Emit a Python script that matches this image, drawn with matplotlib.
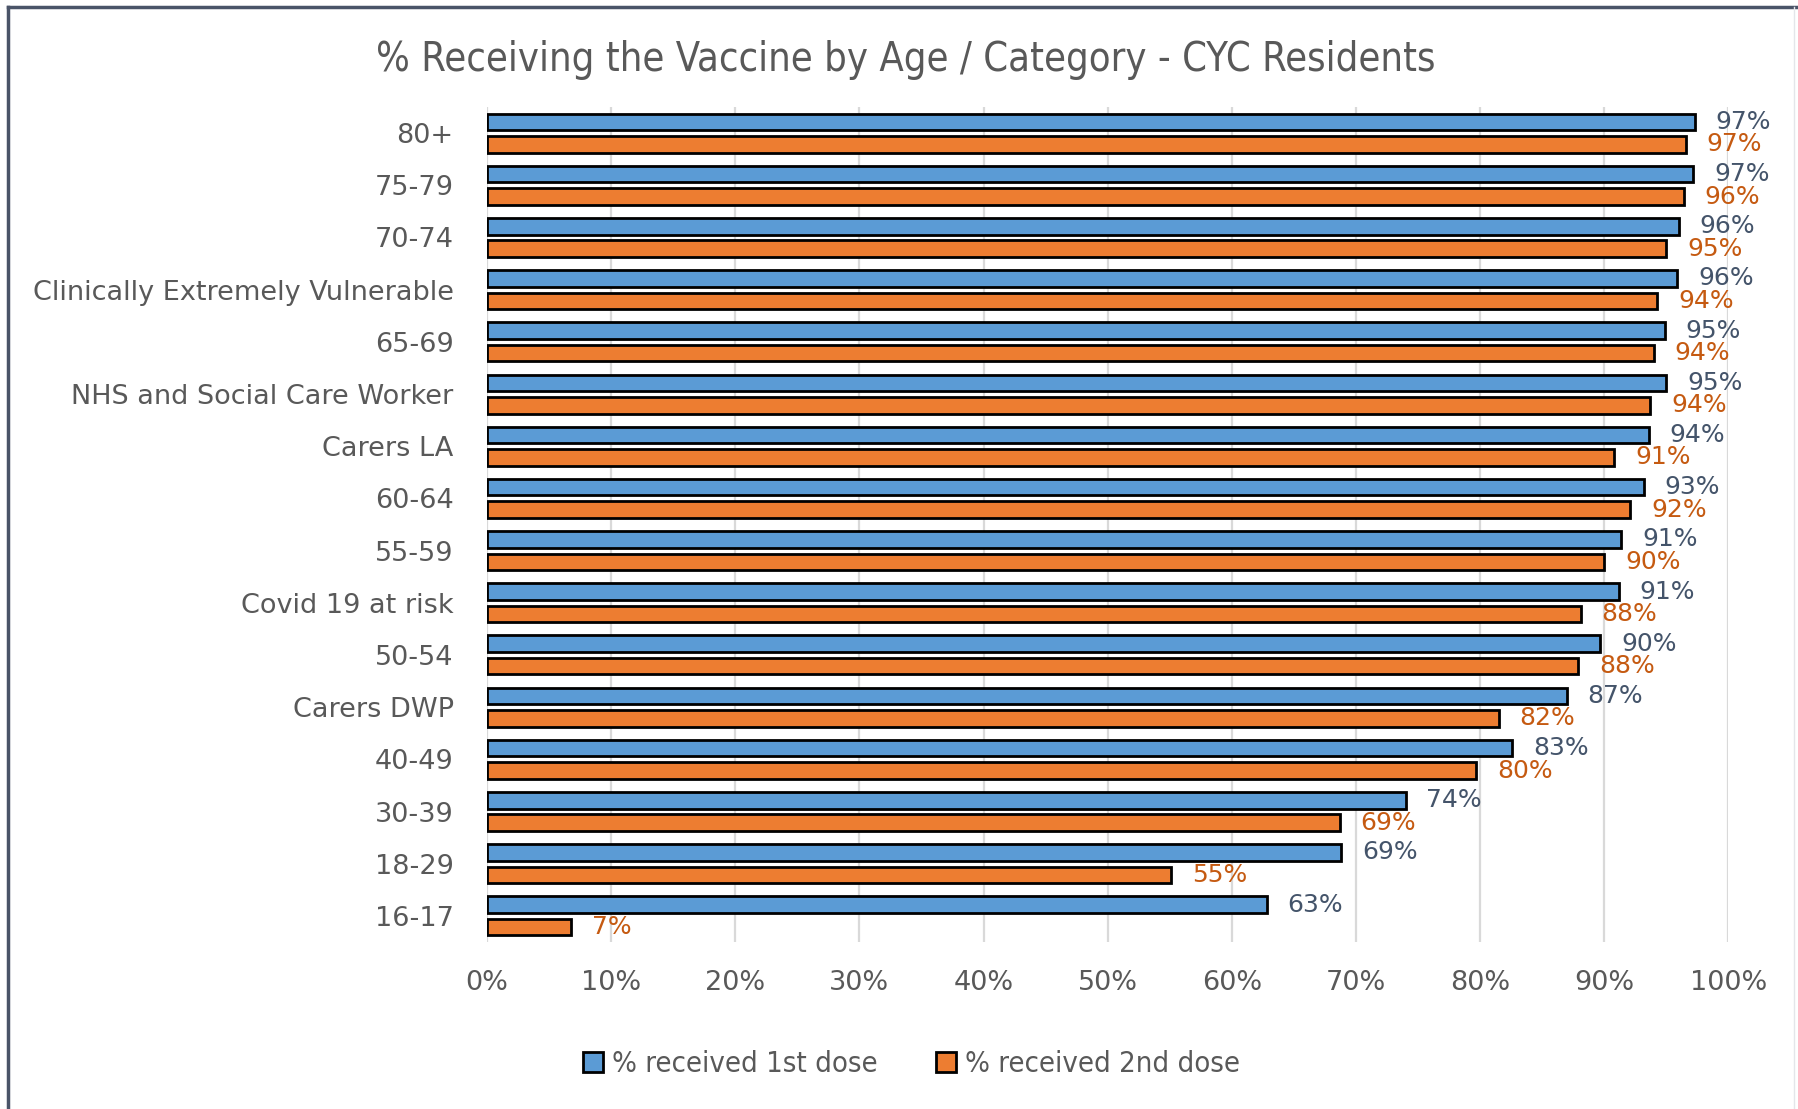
import numpy as np
import matplotlib.pyplot as plt
from matplotlib.lines import Line2D

# данные (сверху вниз, как на графике)
categories = ["80+", "75-79", "70-74", "Clinically Extremely Vulnerable", "65-69",
              "NHS and Social Care Worker", "Carers LA", "60-64", "55-59",
              "Covid 19 at risk", "50-54", "Carers DWP", "40-49", "30-39",
              "18-29", "16-17"]
dose1 = [0.973, 0.972, 0.960, 0.959, 0.949, 0.950, 0.936, 0.932, 0.914,
         0.912, 0.897, 0.870, 0.826, 0.740, 0.688, 0.628]
dose2 = [0.966, 0.964, 0.950, 0.943, 0.940, 0.937, 0.908, 0.921, 0.900,
         0.881, 0.879, 0.815, 0.797, 0.687, 0.551, 0.068]
series_names = ["% received 1st dose", "% received 2nd dose"]
xticks = np.arange(0, 1.01, 0.1)

BLUE, ORANGE = "#5B9BD5", "#ED7D31"
BLUE_TXT, ORANGE_TXT = "#44546A", "#C55A11"
GREY_TXT = "#595959"

fig = plt.figure(figsize=(17.98, 11.09), dpi=100)
ax = fig.add_axes([0.2709, 0.1506, 0.6903, 0.7529])

y = np.arange(len(categories))
h = 0.317
off = 0.215
b1 = ax.barh(y - off, dose1, height=h, color=BLUE, edgecolor="black", linewidth=2,
             label=series_names[0], zorder=3)
b2 = ax.barh(y + off, dose2, height=h, color=ORANGE, edgecolor="black", linewidth=2,
             label=series_names[1], zorder=3)

for yy, v in zip(y - off, dose1):
    ax.annotate(f"{v:.0%}", xy=(v, yy), xytext=(15, 0), textcoords="offset points",
                va="center", ha="left", fontsize=18, color=BLUE_TXT)
for yy, v in zip(y + off, dose2):
    ax.annotate(f"{v:.0%}", xy=(v, yy), xytext=(15, 0), textcoords="offset points",
                va="center", ha="left", fontsize=18, color=ORANGE_TXT)

ax.set_xlim(0, 1)
ax.set_ylim(len(categories) - 0.5, -0.5)
ax.set_xticks(xticks)
ax.set_xticklabels([f"{t:.0%}" for t in xticks])
ax.set_yticks(y)
ax.set_yticklabels(categories)
ax.tick_params(axis="y", length=0, pad=24, labelsize=19.5, labelcolor=GREY_TXT)
ax.tick_params(axis="x", length=0, pad=20, labelsize=19.5, labelcolor=GREY_TXT)
ax.grid(axis="x", color="#D9D9D9", linewidth=1.6, zorder=0)
ax.set_axisbelow(True)
for s in ax.spines.values():
    s.set_visible(False)

fig.text(0.504, 0.946, "% Receiving the Vaccine by Age / Category - CYC Residents",
         ha="center", va="center", fontsize=28.5, color=GREY_TXT,
         family="DejaVu Sans", fontstretch="condensed")

leg = fig.legend(handles=[b1, b2], loc="center", bbox_to_anchor=(0.507, 0.0406),
                 ncol=2, frameon=False, handlelength=0.7, handleheight=0.7,
                 handletextpad=0.3, columnspacing=2.0,
                 prop={"family": "DejaVu Sans", "stretch": "condensed", "size": 21})
for t in leg.get_texts():
    t.set_color(GREY_TXT)

# рамка вокруг диаграммы (слева и сверху)
border = dict(color="#4A5468", linewidth=2.5, transform=fig.transFigure, clip_on=False)
fig.add_artist(Line2D([0.0045, 0.0045], [0.0, 0.9937], **border))
fig.add_artist(Line2D([0.0045, 1.0], [0.9937, 0.9937], **border))
fig.add_artist(Line2D([0.998, 0.998], [0.0, 0.9937], color="#E4E6EA", linewidth=1,
                      transform=fig.transFigure))

fig.savefig("out.png", dpi=100)
